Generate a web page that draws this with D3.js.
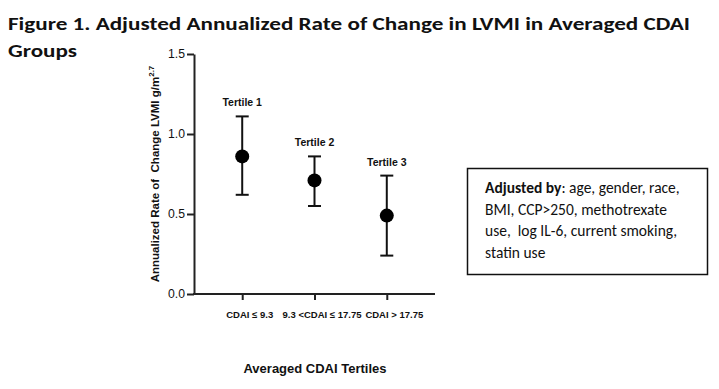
<!DOCTYPE html>
<html><head><meta charset="utf-8">
<script src="https://cdn.jsdelivr.net/npm/d3@7"></script>
<style>body{margin:0;background:#fff}svg{display:block}</style>
</head><body>
<script>
const categories = ["CDAI \u2264 9.3", "9.3 <CDAI \u2264 17.75", "CDAI > 17.75"];
const groupLabels = ["Tertile 1", "Tertile 2", "Tertile 3"];
const means = [0.86, 0.71, 0.49];
const lower = [0.62, 0.55, 0.24];
const upper = [1.11, 0.86, 0.74];
const yTicks = [0.0, 0.5, 1.0, 1.5];
const titleLines = ["Figure 1. Adjusted Annualized Rate of Change in LVMI in Averaged CDAI", "Groups"];
const noteLines = [["Adjusted by", ": age, gender, race,"], ["", "BMI, CCP>250, methotrexate"], ["", "use,\u00a0 log IL-6, current smoking,"], ["", "statin use"]];

const W = 719, H = 389;
const svg = d3.select("body").append("svg").attr("width", W).attr("height", H);
const titleFont = "Carlito, Lato, 'Open Sans', sans-serif";
const chartFont = "'Liberation Sans', Arial, sans-serif";

// title
svg.append("text").attr("x", 8).attr("y", 30).attr("font-family", titleFont)
  .attr("font-weight", "bold").attr("font-size", 19).attr("fill", "#111")
  .attr("textLength", 682).attr("lengthAdjust", "spacingAndGlyphs").text(titleLines[0]);
svg.append("text").attr("x", 8).attr("y", 57).attr("font-family", titleFont)
  .attr("font-weight", "bold").attr("font-size", 19).attr("fill", "#111")
  .attr("textLength", 69).attr("lengthAdjust", "spacingAndGlyphs").text(titleLines[1]);

const x = d3.scalePoint().domain(categories).range([194, 435]).padding(0.667);
const y = d3.scaleLinear().domain([0, 1.5]).range([294, 54]);

// y axis
const yAxis = svg.append("g").attr("transform", "translate(194,0)")
  .call(d3.axisLeft(y).tickValues(yTicks).tickFormat(d3.format(".1f")).tickSize(7).tickSizeOuter(0));
yAxis.select(".domain").attr("stroke", "#222").attr("stroke-width", 2);
yAxis.selectAll(".tick line").attr("stroke", "#222").attr("stroke-width", 2);
yAxis.selectAll(".tick text").attr("font-family", chartFont).attr("font-size", 12)
  .attr("fill", "#111").attr("x", -9).attr("textLength", 17).attr("lengthAdjust", "spacingAndGlyphs");

// x axis
const xAxis = svg.append("g").attr("transform", "translate(0,294)")
  .call(d3.axisBottom(x).tickSize(6).tickSizeOuter(0));
xAxis.select(".domain").attr("stroke", "#222").attr("stroke-width", 2).attr("d", "M193,0H435");
xAxis.selectAll(".tick line").attr("stroke", "#222").attr("stroke-width", 2);
xAxis.selectAll(".tick text").attr("font-family", chartFont).attr("font-size", 9.5)
  .attr("font-weight", "bold").attr("fill", "#111").attr("dx", 7).attr("y", 17);

// y title
const yt = svg.append("text").attr("transform", "translate(159,174) rotate(-90)")
  .attr("text-anchor", "middle").attr("font-family", chartFont).attr("font-weight", "bold")
  .attr("font-size", 11.5).attr("fill", "#111");
yt.append("tspan").text("Annualized Rate of\u00a0 Change LVMI g/m");
yt.append("tspan").attr("font-size", 8).attr("dy", -5).text("2.7");

// x title
svg.append("text").attr("x", 315).attr("y", 373).attr("text-anchor", "middle")
  .attr("font-family", chartFont).attr("font-weight", "bold").attr("font-size", 13)
  .attr("fill", "#111").text("Averaged CDAI Tertiles");

// error bars & points
const g = svg.append("g");
categories.forEach((c, i) => {
  const cx = x(c);
  g.append("line").attr("x1", cx).attr("x2", cx).attr("y1", y(lower[i])).attr("y2", y(upper[i]))
    .attr("stroke", "#111").attr("stroke-width", 2);
  [lower[i], upper[i]].forEach(v => {
    g.append("line").attr("x1", cx - 6.5).attr("x2", cx + 6.5).attr("y1", y(v)).attr("y2", y(v))
      .attr("stroke", "#111").attr("stroke-width", 2);
  });
  g.append("circle").attr("cx", cx).attr("cy", y(means[i])).attr("r", 7).attr("fill", "#000");
  g.append("text").attr("x", cx).attr("y", y(upper[i]) - 10).attr("text-anchor", "middle")
    .attr("font-family", chartFont).attr("font-weight", "bold").attr("font-size", 10.5)
    .attr("fill", "#111").text(groupLabels[i]);
});

// note box
svg.append("rect").attr("x", 467.5).attr("y", 168.5).attr("width", 240).attr("height", 106)
  .attr("fill", "#fff").attr("stroke", "#111").attr("stroke-width", 1.5);
noteLines.forEach((ln, i) => {
  const t = svg.append("text").attr("x", 485).attr("y", 193 + i * 21.5)
    .attr("font-family", titleFont).attr("font-size", 15.5).attr("fill", "#111");
  if (ln[0]) t.append("tspan").attr("font-weight", "bold").text(ln[0]);
  t.append("tspan").text(ln[1]);
});
</script>
</body></html>
